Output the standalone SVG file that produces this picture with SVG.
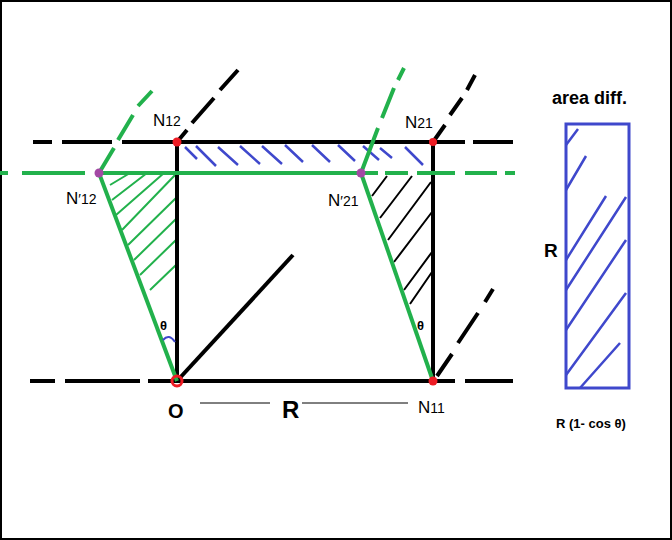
<svg xmlns="http://www.w3.org/2000/svg" width="672" height="540" viewBox="0 0 672 540">
<style>
.k{stroke:#000;stroke-width:4;fill:none}
.g{stroke:#22b14c;stroke-width:4;fill:none}
.hg{stroke:#22b14c;stroke-width:2}
.hk{stroke:#000;stroke-width:2}
.hb{stroke:#3f48cc;stroke-width:2.5}
text{font-family:"Liberation Sans",Arial,sans-serif;fill:#000}
.b{font-weight:bold}
</style>
<rect x="1" y="1" width="670" height="538" fill="#fff" stroke="#000" stroke-width="2"/>
<g id="connectors">
<path class="hb" d="M185 147l12 12M196 146l20 20M218 147l20 18M240 146l20 18M262 146l20 18M285 145l18 17M312 145l18 17M338 145l17 16M363 146l16 14M380 148l12 10M405 147l18 18"/>
<path class="hg" d="M110 185l20-12M112 200l35-27M116 215l48-42M122 230l55-57M128 245l49-48M134 260l43-42M140 275l37-36M150 290l27-26"/>
<path class="hk" d="M372 196l15-20M380 218l32-42M388 240l43-58M394 262l38-50M404 290l28-38M410 304l22-32"/>
<line class="k" x1="33" y1="142" x2="52" y2="142"/><line class="k" x1="62" y1="142" x2="112" y2="142"/>
<line class="k" x1="122" y1="142" x2="465" y2="142"/><line class="k" x1="473" y1="142" x2="513" y2="142"/>
<line class="k" x1="30" y1="381" x2="55" y2="381"/><line class="k" x1="65" y1="381" x2="140" y2="381"/>
<line class="k" x1="148" y1="381" x2="455" y2="381"/><line class="k" x1="465" y1="381" x2="513" y2="381"/>
<line class="k" x1="177" y1="142" x2="177" y2="381"/><line class="k" x1="433" y1="142" x2="433" y2="381"/>
<line class="k" x1="177" y1="381" x2="293" y2="255"/>
<path class="k" d="M177 142l10-12M192 123l22-25M220 90l18-20"/>
<path class="k" d="M433 142l12-17M450 115l12-17M467 90l8-15"/>
<path class="k" d="M437 376l15-22M458 343l20-30M485 302l8-13"/>
<line class="g" x1="0" y1="173" x2="8" y2="173"/><line class="g" x1="22" y1="173" x2="85" y2="173"/>
<line class="g" x1="99" y1="173" x2="378" y2="173"/><line class="g" x1="385" y1="173" x2="408" y2="173"/>
<line class="g" x1="417" y1="173" x2="455" y2="173"/><line class="g" x1="465" y1="173" x2="497" y2="173"/><line class="g" x1="505" y1="173" x2="515" y2="173"/>
<line class="g" x1="177" y1="381" x2="99" y2="173"/><line class="g" x1="433" y1="381" x2="361" y2="173"/>
<path class="g" d="M99 173l15-25M118 140l15-25M138 106l14-15"/>
<path class="g" d="M361 173l17-45M382 118l12-30M398 80l6-12"/>
<path d="M163 340q6-7 12 2" stroke="#3f48cc" stroke-width="2" fill="none"/>
<line x1="200" y1="403" x2="270" y2="403" stroke="#000" stroke-width="1"/>
<line x1="302" y1="403" x2="408" y2="403" stroke="#000" stroke-width="1"/>
</g>
<g id="rect"><rect x="566" y="124" width="63" height="264" fill="none" stroke="#3f48cc" stroke-width="3"/>
<path class="hb" d="M566 145l12-16M566 190l20-34M566 260l40-64M566 290l60-93M566 330l60-90M566 375l60-82M580 388l40-45"/></g>
<g id="nodes">
<circle cx="177" cy="142" r="4.5" fill="#ed1c24"/>
<circle cx="433" cy="142" r="4" fill="#ed1c24"/>
<circle cx="177" cy="381" r="5" fill="none" stroke="#ed1c24" stroke-width="3"/>
<circle cx="433" cy="381" r="4.5" fill="#ed1c24"/>
<circle cx="99" cy="173" r="4.5" fill="#a349a4"/>
<circle cx="361" cy="173" r="4.5" fill="#a349a4"/>
</g>
<g id="labels">
<text x="153" y="126" font-size="17">N<tspan font-size="14">12</tspan></text>
<text x="405" y="128" font-size="17">N<tspan font-size="14">21</tspan></text>
<text x="66" y="204" font-size="17">N<tspan font-size="14">′12</tspan></text>
<text x="328" y="206" font-size="17">N<tspan font-size="14">′21</tspan></text>
<text x="418" y="413" font-size="17">N<tspan font-size="14">11</tspan></text>
<text x="168" y="418" font-size="20" class="b">O</text>
<text x="282" y="418" font-size="24" class="b">R</text>
<text x="160" y="330" font-size="13" class="b">θ</text>
<text x="417" y="330" font-size="13" class="b">θ</text>
<text x="552" y="104" font-size="18" class="b">area diff.</text>
<text x="544" y="257" font-size="19" class="b">R</text>
<text x="556" y="428" font-size="13" class="b">R (1- cos θ)</text>
</g>
</svg>
